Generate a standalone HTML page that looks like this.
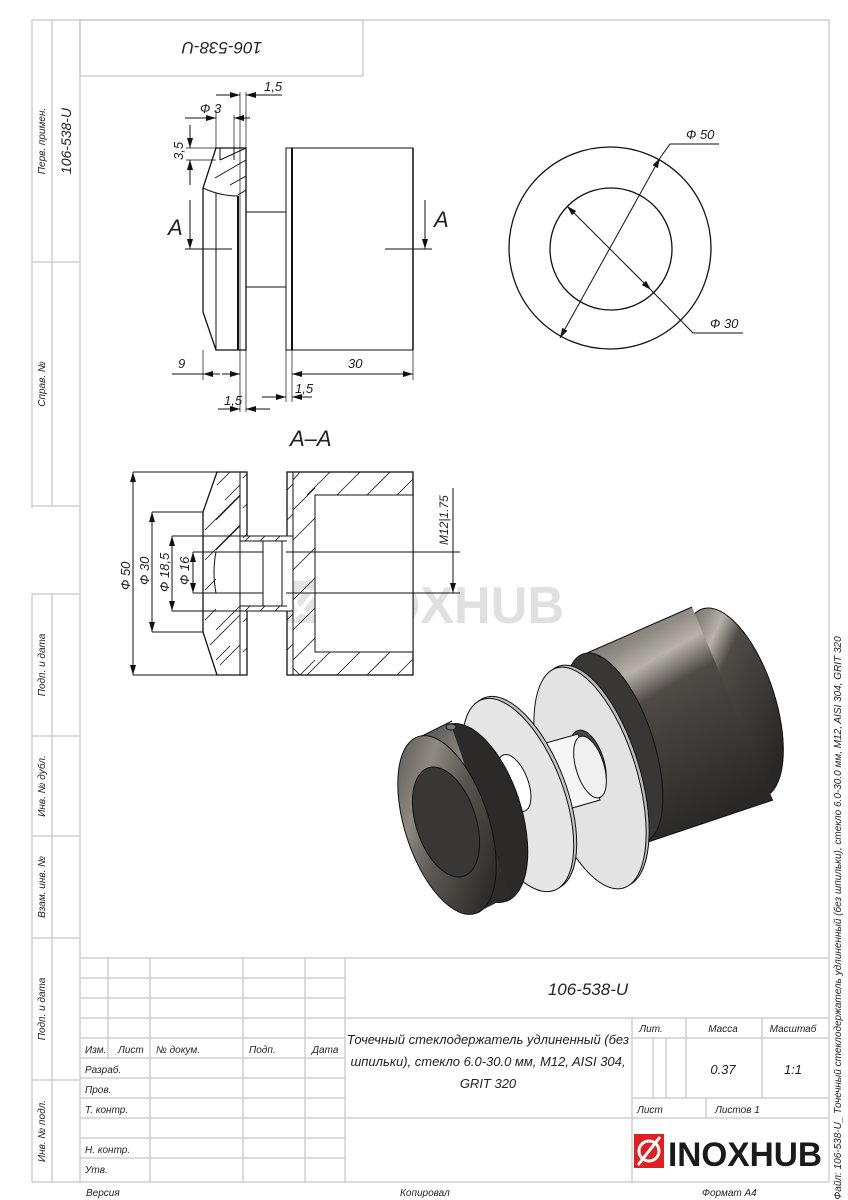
<!DOCTYPE html>
<html><head><meta charset="utf-8"><style>
html,body{margin:0;padding:0;background:#fff}
svg{display:block}
text{font-family:"Liberation Sans","DejaVu Sans",sans-serif;font-style:italic;fill:#222}
text.n{font-style:normal;font-weight:bold}
.f{stroke:#c8c8c8;stroke-width:1.3;fill:none}
.d{stroke:#111;stroke-width:1;fill:none}
.t{stroke:#111;stroke-width:2;fill:none}
.h{stroke:#111;stroke-width:0.8;fill:none}
</style></head><body>
<svg width="848" height="1200" viewBox="0 0 848 1200" xmlns="http://www.w3.org/2000/svg">
<defs>
<marker id="a" viewBox="0 0 10 6" refX="10" refY="3" markerWidth="10" markerHeight="6" orient="auto-start-reverse"><path d="M0,0L10,3L0,6z" fill="#111"/></marker>
<linearGradient id="cyl" x1="0" y1="0" x2="0.45" y2="1"><stop offset="0" stop-color="#5a5650"/><stop offset="0.22" stop-color="#8f8a83"/><stop offset="0.32" stop-color="#b8b2aa"/><stop offset="0.45" stop-color="#4e4a46"/><stop offset="1" stop-color="#2a2826"/></linearGradient>
<linearGradient id="cap" x1="0" y1="0" x2="0.6" y2="1"><stop offset="0" stop-color="#4a4744"/><stop offset="0.35" stop-color="#8e8982"/><stop offset="0.6" stop-color="#5a5650"/><stop offset="1" stop-color="#2e2c2a"/></linearGradient>
</defs>
<!-- frame -->
<rect x="32" y="20" width="797" height="1162" class="f"/>
<line x1="80" y1="20" x2="80" y2="1182" class="f"/>
<line x1="52" y1="20" x2="52" y2="506" class="f"/>
<line x1="32" y1="262" x2="80" y2="262" class="f"/>
<line x1="32" y1="506" x2="80" y2="506" class="f"/>
<line x1="52" y1="594" x2="52" y2="1182" class="f"/>
<line x1="32" y1="594" x2="80" y2="594" class="f"/>
<line x1="32" y1="736" x2="80" y2="736" class="f"/>
<line x1="32" y1="836" x2="80" y2="836" class="f"/>
<line x1="32" y1="938" x2="80" y2="938" class="f"/>
<line x1="32" y1="1080" x2="80" y2="1080" class="f"/>
<line x1="32" y1="508" x2="32" y2="593" stroke="#fff" stroke-width="3"/>
<rect x="80" y="20" width="283" height="56" class="f"/>
<text transform="translate(222,42) rotate(180)" text-anchor="middle" font-size="17">106-538-U</text>
<g font-size="10">
<text transform="translate(45,141) rotate(-90)" text-anchor="middle">Перв. примен.</text>
<text transform="translate(71,141) rotate(-90)" text-anchor="middle" font-size="14">106-538-U</text>
<text transform="translate(45,384) rotate(-90)" text-anchor="middle">Справ. №</text>
<text transform="translate(45,665) rotate(-90)" text-anchor="middle">Подп. и дата</text>
<text transform="translate(45,786) rotate(-90)" text-anchor="middle">Инв. № дубл.</text>
<text transform="translate(45,887) rotate(-90)" text-anchor="middle">Взам. инв. №</text>
<text transform="translate(45,1009) rotate(-90)" text-anchor="middle">Подп. и дата</text>
<text transform="translate(45,1131) rotate(-90)" text-anchor="middle">Инв. № подл.</text>
<text transform="translate(841,918) rotate(-90)" text-anchor="middle">Файл: 106-538-U_ Точечный стеклодержатель удлиненный (без шпильки), стекло 6.0-30.0 мм, M12, AISI 304, GRIT 320</text>
</g>
<!-- title block -->
<g class="f">
<line x1="80" y1="958" x2="829" y2="958"/>
<line x1="80" y1="978" x2="345" y2="978"/>
<line x1="80" y1="998" x2="345" y2="998"/>
<line x1="80" y1="1018" x2="829" y2="1018"/>
<line x1="80" y1="1038" x2="345" y2="1038"/>
<line x1="632" y1="1038" x2="829" y2="1038"/>
<line x1="80" y1="1058" x2="345" y2="1058"/>
<line x1="80" y1="1078" x2="345" y2="1078"/>
<line x1="80" y1="1098" x2="345" y2="1098"/>
<line x1="632" y1="1098" x2="829" y2="1098"/>
<line x1="80" y1="1118" x2="829" y2="1118"/>
<line x1="80" y1="1138" x2="345" y2="1138"/>
<line x1="80" y1="1158" x2="345" y2="1158"/>
<line x1="108" y1="958" x2="108" y2="1058"/>
<line x1="150" y1="958" x2="150" y2="1182"/>
<line x1="243" y1="958" x2="243" y2="1182"/>
<line x1="305" y1="958" x2="305" y2="1182"/>
<line x1="345" y1="958" x2="345" y2="1182"/>
<line x1="632" y1="1018" x2="632" y2="1182"/>
<line x1="653" y1="1038" x2="653" y2="1098"/>
<line x1="666" y1="1038" x2="666" y2="1098"/>
<line x1="686" y1="1018" x2="686" y2="1098"/>
<line x1="762" y1="1018" x2="762" y2="1098"/>
<line x1="706" y1="1098" x2="706" y2="1118"/>
</g>
<g font-size="10">
<text x="85" y="1053">Изм.</text><text x="118" y="1053">Лист</text><text x="156" y="1053">№ докум.</text><text x="249" y="1053">Подп.</text><text x="312" y="1053">Дата</text>
<text x="85" y="1073">Разраб.</text><text x="85" y="1093">Пров.</text><text x="85" y="1113">Т. контр.</text><text x="85" y="1153">Н. контр.</text><text x="85" y="1173">Утв.</text>
<text x="651" y="1032" text-anchor="middle">Лит.</text><text x="723" y="1032" text-anchor="middle">Масса</text><text x="793" y="1032" text-anchor="middle">Масштаб</text>
<text x="637" y="1113">Лист</text><text x="715" y="1113">Листов 1</text>
<text x="86" y="1196">Версия</text><text x="400" y="1196">Копировал</text><text x="702" y="1196">Формат A4</text>
</g>
<text x="588" y="995" text-anchor="middle" font-size="17">106-538-U</text>
<text x="488" y="1044" text-anchor="middle" font-size="13">Точечный стеклодержатель удлиненный (без</text>
<text x="488" y="1066" text-anchor="middle" font-size="13">шпильки), стекло 6.0-30.0 мм, M12, AISI 304,</text>
<text x="488" y="1088" text-anchor="middle" font-size="13">GRIT 320</text>
<text x="723" y="1074" text-anchor="middle" font-size="13">0.37</text>
<text x="793" y="1074" text-anchor="middle" font-size="13">1:1</text>
<rect x="634" y="1134" width="30" height="34" fill="#e02020"/>
<circle cx="649" cy="1151" r="10" fill="none" stroke="#fff" stroke-width="3"/>
<line x1="638" y1="1165" x2="660" y2="1137" stroke="#fff" stroke-width="3"/>
<text class="n" x="668" y="1166" font-size="34" style="fill:#1a1a1a" textLength="154" lengthAdjust="spacingAndGlyphs">INOXHUB</text>
<!-- watermark -->
<rect x="288" y="581" width="38" height="42" fill="#e3e3e3"/>
<circle cx="307" cy="602" r="11" fill="none" stroke="#fff" stroke-width="4"/>
<line x1="294" y1="618" x2="320" y2="586" stroke="#fff" stroke-width="4"/>
<text class="n" x="330" y="623" font-size="52" style="fill:#e0e0e0" textLength="234" lengthAdjust="spacingAndGlyphs">INOXHUB</text>
<!-- top view -->
<g class="d">
<path d="M216,148 L246,148 L246,350 L216,350 L203,312 L203,188 Z" stroke-width="1.3"/>
<line x1="216" y1="193" x2="216" y2="350"/>
<line x1="238" y1="196" x2="238" y2="350" stroke-width="2"/>
<path d="M203,188 Q220,196 238,196"/>
<path d="M220,160 L246,148 M215,178 L246,160 M230,185 L246,176 M238,195 L246,190"/>
<line x1="220" y1="148" x2="220" y2="160"/><line x1="234" y1="148" x2="234" y2="160"/>
<line x1="246" y1="212" x2="286" y2="212"/><line x1="246" y1="287" x2="286" y2="287"/>
<rect x="286" y="148" width="127" height="202"/>
<line x1="292" y1="148" x2="292" y2="350" stroke-width="2"/>
<line x1="413" y1="148" x2="413" y2="350" stroke-width="1.5"/>
<line x1="185" y1="249" x2="232" y2="249"/><line x1="385" y1="249" x2="432" y2="249" />
<line x1="190" y1="200" x2="190" y2="249" marker-end="url(#a)"/>
<line x1="425" y1="200" x2="425" y2="249" marker-end="url(#a)"/>
<line x1="216" y1="110" x2="216" y2="148" stroke-width="0.7"/>
<line x1="234" y1="115" x2="234" y2="148" stroke-width="0.7"/>
<line x1="240" y1="92" x2="240" y2="412" stroke-width="0.7"/>
<line x1="246" y1="92" x2="246" y2="412" stroke-width="0.7"/>
<line x1="185" y1="118" x2="216" y2="118" marker-end="url(#a)"/><line x1="250" y1="118" x2="234" y2="118" marker-end="url(#a)"/>
<line x1="216" y1="95" x2="240" y2="95" marker-end="url(#a)"/><line x1="282" y1="95" x2="246" y2="95" marker-end="url(#a)"/>
<line x1="186" y1="148" x2="216" y2="148" stroke-width="0.7"/><line x1="186" y1="160" x2="216" y2="160" stroke-width="0.7"/>
<line x1="190" y1="125" x2="190" y2="148" marker-end="url(#a)"/><line x1="190" y1="185" x2="190" y2="160" marker-end="url(#a)"/>
<line x1="203" y1="350" x2="203" y2="380" stroke-width="0.7"/>
<line x1="172" y1="374" x2="203" y2="374"/>
<line x1="220" y1="374" x2="203" y2="374" marker-end="url(#a)"/><line x1="222" y1="374" x2="240" y2="374" marker-end="url(#a)"/>
<line x1="218" y1="409" x2="240" y2="409" marker-end="url(#a)"/><line x1="270" y1="409" x2="246" y2="409" marker-end="url(#a)"/>
<line x1="286" y1="350" x2="286" y2="402" stroke-width="0.7"/><line x1="292" y1="350" x2="292" y2="402" stroke-width="0.7"/><line x1="413" y1="350" x2="413" y2="380" stroke-width="0.7"/>
<line x1="262" y1="397" x2="286" y2="397" marker-end="url(#a)"/><line x1="312" y1="397" x2="292" y2="397" marker-end="url(#a)"/>
<line x1="330" y1="374" x2="292" y2="374" marker-end="url(#a)"/><line x1="330" y1="374" x2="413" y2="374" marker-end="url(#a)"/>
</g>
<g font-size="13">
<text x="200" y="113">Ф 3</text><text x="264" y="91">1,5</text>
<text transform="translate(183,160) rotate(-90)">3,5</text>
<text x="168" y="235" font-size="22">A</text><text x="434" y="227" font-size="22">A</text>
<text x="178" y="368">9</text><text x="348" y="368">30</text>
<text x="224" y="405">1,5</text><text x="295" y="393">1,5</text>
<text x="290" y="446" font-size="22">A–A</text>
</g>
<!-- section A-A -->
<g class="d">
<path d="M217,472 L247,472 L247,675 L217,675 L203,632 L203,512 Z" stroke-width="1.3"/>
<line x1="240" y1="472" x2="240" y2="536"/><line x1="240" y1="611" x2="240" y2="675"/>
<rect x="287" y="472" width="126" height="203" stroke-width="1.3"/>
<line x1="293" y1="472" x2="293" y2="536"/><line x1="293" y1="611" x2="293" y2="675"/>
<rect x="315" y="495" width="98" height="157" fill="#fff"/>
<rect x="240" y="536" width="53" height="75" fill="#fff"/>
<line x1="240" y1="541" x2="287" y2="541"/><line x1="240" y1="606" x2="287" y2="606"/>
<path d="M216,552 L263,552 L263,593 L216,593 Q212,572 216,552" />
<line x1="263" y1="541" x2="263" y2="606"/><line x1="282" y1="541" x2="282" y2="606"/>
<line x1="286" y1="552" x2="413" y2="552"/><line x1="286" y1="593" x2="413" y2="593"/>
</g>
<g class="h">
<path d="M205,530 L240,495 M205,560 L240,525 M205,590 L216,579 M205,620 L216,609 M210,645 L240,615 M220,665 L240,645 M230,472 L217,485 M225,500 L240,485 M243,478 L247,474 M243,508 L247,504 M243,538 L247,534 M243,622 L247,618 M243,652 L247,648"/>
<path d="M216,520 L240,496 M216,550 L240,526 M216,630 L240,606 M216,660 L230,646"/>
<path d="M300,472 L293,480 M330,472 L307,495 M360,472 L337,495 M390,472 L367,495 M413,479 L397,495 M300,675 L293,668 M315,660 L300,675 M330,652 L307,675 M360,652 L337,675 M390,652 L367,675 M413,659 L397,675"/>
<path d="M293,510 L315,488 M293,540 L315,518 M293,570 L315,548 M293,600 L315,578 M293,630 L315,608 M293,660 L315,638 M287,490 L293,484 M287,520 L293,514 M287,620 L293,614 M287,650 L293,644"/>
<path d="M245,541 L250,536 M260,541 L265,536 M275,541 L280,536 M245,611 L250,606 M260,611 L265,606 M275,611 L280,606"/>
</g>
<g class="d" stroke-width="0.8">
<line x1="133" y1="472" x2="217" y2="472"/><line x1="133" y1="675" x2="217" y2="675"/>
<line x1="152" y1="512" x2="203" y2="512"/><line x1="152" y1="632" x2="203" y2="632"/>
<line x1="172" y1="536" x2="240" y2="536"/><line x1="172" y1="611" x2="240" y2="611"/>
<line x1="193" y1="552" x2="216" y2="552"/><line x1="193" y1="593" x2="216" y2="593"/>
<line x1="133" y1="472" x2="133" y2="675" marker-start="url(#a)" marker-end="url(#a)"/>
<line x1="152" y1="512" x2="152" y2="632" marker-start="url(#a)" marker-end="url(#a)"/>
<line x1="172" y1="536" x2="172" y2="611" marker-start="url(#a)" marker-end="url(#a)"/>
<line x1="193" y1="552" x2="193" y2="593" marker-start="url(#a)" marker-end="url(#a)"/>
<line x1="453" y1="488" x2="453" y2="593" marker-end="url(#a)"/>
<line x1="413" y1="552" x2="460" y2="552"/><line x1="413" y1="593" x2="460" y2="593"/>
</g>
<g font-size="13">
<text transform="translate(130,590) rotate(-90)">Ф 50</text>
<text transform="translate(149,585) rotate(-90)">Ф 30</text>
<text transform="translate(169,592) rotate(-90)">Ф 18,5</text>
<text transform="translate(189,585) rotate(-90)">Ф 16</text>
<text transform="translate(448,545) rotate(-90)" font-size="12">M12|1.75</text>
</g>
<!-- circle view -->
<g class="d">
<circle cx="610" cy="248" r="101" stroke-width="1.3"/>
<circle cx="611" cy="249" r="61" stroke-width="1.3"/>
<line x1="560" y1="338" x2="660" y2="158" marker-start="url(#a)" marker-end="url(#a)"/>
<polyline points="660,158 670,144 719,144"/>
<line x1="567" y1="206" x2="651" y2="290" marker-start="url(#a)" marker-end="url(#a)"/>
<polyline points="651,290 693,333 743,333"/>
</g>
<text x="686" y="139" font-size="13">Ф 50</text>
<text x="710" y="328" font-size="13">Ф 30</text>
<!-- 3D render -->
<g stroke="#111" stroke-width="1">
<!-- big cylinder -->
<ellipse cx="733" cy="703" rx="42" ry="99" transform="rotate(-18 733 703)" fill="url(#cyl)"/>
<path d="M587,653 L692,607 L773,800 L648,842 Z" fill="url(#cyl)" stroke="none"/>
<line x1="587" y1="653" x2="692" y2="607"/><line x1="648" y1="842" x2="773" y2="800"/>
<ellipse cx="614" cy="748" rx="40" ry="99" transform="rotate(-18 614 748)" fill="#393735"/>
<ellipse cx="612" cy="745" rx="14" ry="32" transform="rotate(-18 612 745)" fill="#6d6a66"/>
<!-- washer 2 -->
<ellipse cx="593" cy="776" rx="47" ry="115" transform="rotate(-17 593 776)" fill="#bdbdbd"/>
<ellipse cx="590" cy="778" rx="47" ry="115" transform="rotate(-17 590 778)" fill="#e3e3e3"/>
<ellipse cx="588" cy="763" rx="16" ry="34" transform="rotate(-17 588 763)" fill="#4a4846"/>
<!-- shaft -->
<path d="M528,748 L578,734 L600,800 L548,815 Z" fill="#f6f6f6"/>
<ellipse cx="590" cy="767" rx="14" ry="32" transform="rotate(-17 590 767)" fill="#f0f0f0"/>
<!-- washer 1 -->
<ellipse cx="521" cy="793" rx="45" ry="102" transform="rotate(-21 521 793)" fill="#c4c4c4"/>
<ellipse cx="518" cy="795" rx="45" ry="102" transform="rotate(-21 518 795)" fill="#e6e6e6"/>
<ellipse cx="514" cy="783" rx="14" ry="30" transform="rotate(-21 514 783)" fill="#fff"/>
<!-- cap -->
<ellipse cx="477" cy="813" rx="44" ry="93" transform="rotate(-18 477 813)" fill="#2c2a28"/>
<path d="M418,738 L450,722 L510,896 L478,912 Z" fill="url(#cap)" stroke="none"/>
<line x1="420" y1="737" x2="452" y2="721"/>
<ellipse cx="447" cy="825" rx="42" ry="93" transform="rotate(-18 447 825)" fill="url(#cap)"/>
<ellipse cx="446" cy="822" rx="30" ry="57" transform="rotate(-18 446 822)" fill="#393735"/>
<ellipse cx="451" cy="727" rx="5" ry="3" fill="#777"/>
</g>
</svg>
</body></html>
